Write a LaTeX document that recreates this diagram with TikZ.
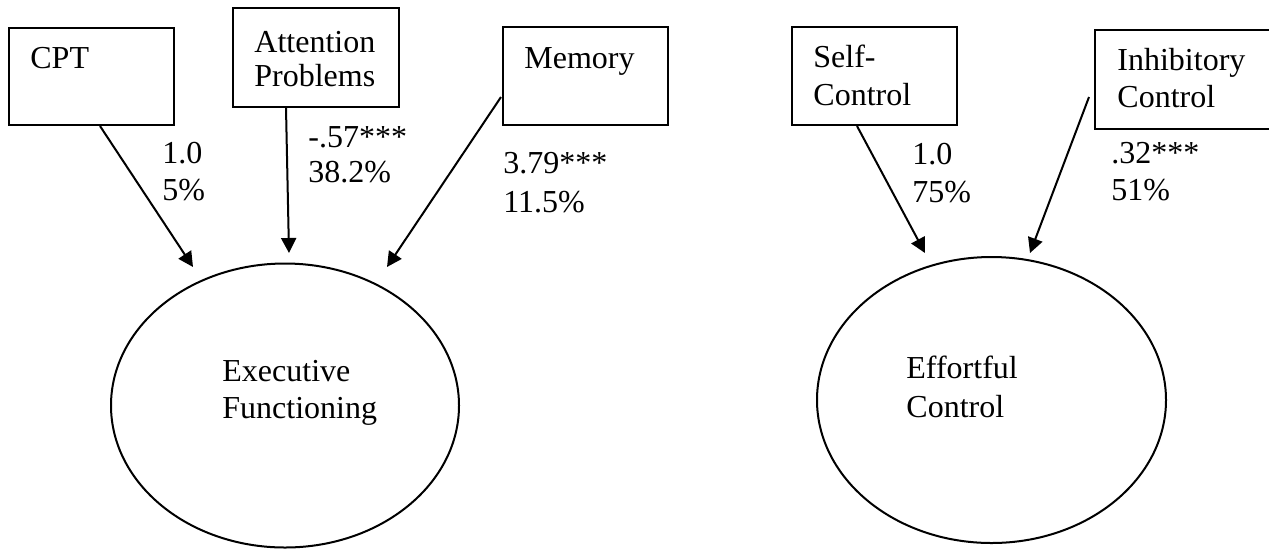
\documentclass[tikz,border=0pt]{standalone}
\usepackage{fontspec}
\setmainfont{Liberation Serif}
\usetikzlibrary{shapes.geometric,arrows.meta,calc}
\begin{document}
\begin{tikzpicture}[x=0.5pt,y=-0.5pt,
  box/.style={draw,line width=1pt,inner sep=0pt,rectangle},
  lat/.style={draw,line width=1pt,ellipse,inner sep=0pt},
  txt/.style={anchor=base west,inner sep=0pt,font=\fontsize{16}{18}\selectfont},
  arr/.style={line width=1pt,-{Triangle[length=7.5pt,width=7.5pt]}}]
\useasboundingbox (0,0) rectangle (1269,548);

% indicator boxes
\node[box,minimum width=82.5pt,minimum height=48.5pt] (cpt) at (91.5,76.5) {};
\node[txt] (cptT) at (30,68) {CPT};
\node[box,minimum width=83pt,minimum height=49.5pt] (att) at (316,57.5) {};
\node[txt] (attT1) at (254,52) {Attention};
\node[txt] (attT2) at (254,86) {Problems};
\node[box,minimum width=82.5pt,minimum height=49pt] (mem) at (585.5,76) {};
\node[txt] (memT) at (524,68) {Memory};
\node[box,minimum width=82.5pt,minimum height=49pt] (self) at (874.5,76) {};
\node[txt] (selfT1) at (813,67) {Self-};
\node[txt] (selfT2) at (813,105) {Control};
\node[box,minimum width=90pt,minimum height=49.5pt] (inh) at (1185,79.5) {};
\node[txt] (inhT1) at (1117,70) {Inhibitory};
\node[txt] (inhT2) at (1117,107) {Control};

% latent variables
\node[lat,minimum width=174pt,minimum height=142pt] (ef) at (285,405.5) {};
\node[txt] (efT1) at (222,381) {Executive};
\node[txt] (efT2) at (222,418) {Functioning};
\node[lat,minimum width=174.5pt,minimum height=143pt] (ec) at (991.5,400) {};
\node[txt] (ecT1) at (906,378) {Effortful};
\node[txt] (ecT2) at (906,417) {Control};

% arrow tips
\coordinate (t1) at (193,267);
\coordinate (t2) at (289,253);
\coordinate (t3) at (387,267);
\coordinate (t4) at (925,253);
\coordinate (t5) at (1030,253);

\draw[arr] ($(cpt.south)+(8.5,0)$) -- (t1);
\draw[arr] ($(att.south)+(-30,0)$) -- (t2);
\draw[arr] ($(mem.west)+(-1,21)$) -- (t3);
\draw[arr] ($(self.south)+(-17.5,0)$) -- (t4);
\draw[arr] ($(inh.west)+(-5,17.5)$) -- (t5);

% labels
\node[txt] (l1a) at (162,163) {1.0};
\node[txt] (l1b) at (162,200) {5\%};
\node[txt] (l2a) at (308,147) {-.57***};
\node[txt] (l2b) at (308,182) {38.2\%};
\node[txt] (l3a) at (503,173) {3.79***};
\node[txt] (l3b) at (503,212) {11.5\%};
\node[txt] (l4a) at (912,164) {1.0};
\node[txt] (l4b) at (912,202) {75\%};
\node[txt] (l5a) at (1111,163) {.32***};
\node[txt] (l5b) at (1111,200) {51\%};
\end{tikzpicture}
\end{document}
